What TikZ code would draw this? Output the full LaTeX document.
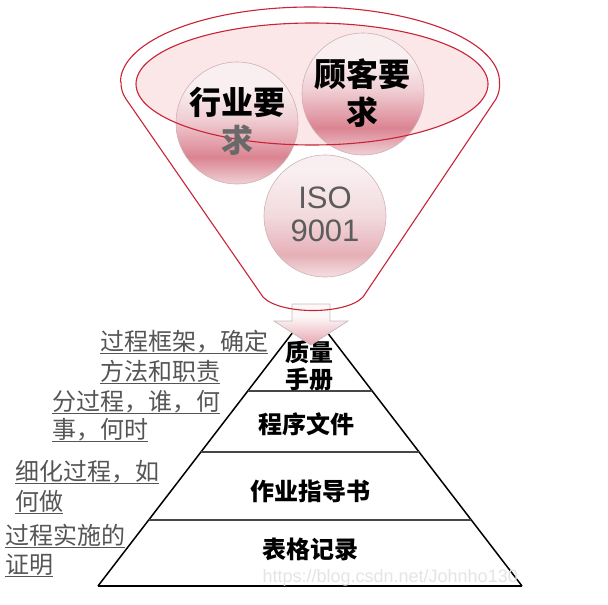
\documentclass[tikz,border=0pt]{standalone}
\usepackage{fontspec}
\newfontfamily\cjk{Noto Sans CJK SC}
\newfontfamily\lat{Liberation Sans}
\usetikzlibrary{calc,shapes.geometric}
\definecolor{funnelred}{RGB}{200,35,55}
\definecolor{ellfill}{RGB}{251,230,232}
\definecolor{notegray}{RGB}{85,85,85}
\definecolor{lowgray}{RGB}{105,105,105}
\definecolor{isogray}{RGB}{92,92,92}
\definecolor{wm}{RGB}{228,228,228}
\definecolor{ballTop}{RGB}{249,238,240}
\definecolor{ballLight}{RGB}{240,208,213}
\definecolor{ballMid}{RGB}{219,132,146}
\definecolor{ballBot}{RGB}{238,202,207}
\definecolor{softTop}{RGB}{249,238,240}
\definecolor{softLight}{RGB}{242,218,221}
\definecolor{softMid}{RGB}{230,175,183}
\definecolor{softBot}{RGB}{242,218,221}
\definecolor{ballEdge}{RGB}{205,178,182}
\definecolor{arrTop}{RGB}{252,248,248}
\definecolor{arrBot}{RGB}{232,165,176}
\definecolor{arrEdge}{RGB}{200,188,190}
\definecolor{layerline}{RGB}{70,70,70}
\pgfdeclareverticalshading{ballshade}{100bp}{color(0bp)=(ballBot); color(26bp)=(ballBot); color(36bp)=(ballMid); color(52bp)=(ballLight); color(64bp)=(ballTop); color(100bp)=(ballTop)}
\pgfdeclareverticalshading{softshade}{100bp}{color(0bp)=(softBot); color(26bp)=(softBot); color(34bp)=(softMid); color(50bp)=(softLight); color(68bp)=(softTop); color(100bp)=(softTop)}
\pgfdeclareverticalshading{arrshade}{100bp}{color(0bp)=(arrBot); color(25bp)=(arrBot); color(60bp)=(arrTop); color(100bp)=(arrTop)}
\tikzset{
  funnel/.style={draw=funnelred, line width=1.1pt, line join=round},
  ball/.style={circle, minimum size=122pt, inner sep=0pt, draw=ballEdge, line width=0.6pt, shading=ballshade},
  bigtxt/.style={align=center, inner sep=0pt, font=\cjk\bfseries\fontsize{32}{38}\selectfont},
  isotxt/.style={align=center, inner sep=0pt, text=isogray, font=\lat\fontsize{31}{33}\selectfont},
  layertxt/.style={align=center, inner sep=0pt, font=\cjk\bfseries\fontsize{24}{27}\selectfont},
  note/.style={anchor=base west, inner sep=0pt, text=notegray, font=\cjk\fontsize{24}{24}\selectfont},
  uline/.style={draw=notegray, line width=0.9pt},
  side/.style={draw=black, line width=1.5pt},
  layer/.style={draw=layerline, line width=1.8pt},
}
\begin{document}
\begin{tikzpicture}[x=1pt,y=-1pt]
\useasboundingbox (0,0) rectangle (608,605);
% ---------- pyramid ----------
\coordinate (A) at (310,310);
\coordinate (BL) at (98,586);
\coordinate (BR) at (522,586);
\draw[side] (BL) -- (A) -- (BR);
\draw[side] (BL) -- (BR);
\draw[layer] ($(A)!0.2935!(BL)$) -- ($(A)!0.2935!(BR)$);
\draw[layer] ($(A)!0.5145!(BL)$) -- ($(A)!0.5145!(BR)$);
\draw[layer] ($(A)!0.7609!(BL)$) -- ($(A)!0.7609!(BR)$);
\node[layertxt] (p1) at (309,366) {质量\\手册};
\node[layertxt] (p2) at (306,424) {程序文件};
\node[layertxt] (p3) at (310,491) {作业指导书};
\node[layertxt] (p4) at (310,549) {表格记录};
% ---------- notes ----------
\node[note] (n1) at (100,350) {过程框架，确定};
\node[note] (n2) at (100,380) {方法和职责};
\node[note] (n3) at (52,410) {分过程，谁，何};
\node[note] (n4) at (52,438) {事，何时};
\node[note] (n5) at (15,480) {细化过程，如};
\node[note] (n6) at (15,510) {何做};
\node[note] (n7) at (5,544) {过程实施的};
\node[note] (n8) at (5,573) {证明};
\foreach \n in {n1,n2,n3,n4,n5,n6,n7,n8}
  \draw[uline] ([yshift=-3pt]\n.base west) -- ([yshift=-3pt]\n.base east);
% ---------- watermark ----------
\node[anchor=base east, inner sep=0pt, text=wm, font=\lat\fontsize{18}{18}\selectfont] (wmk) at (518,582) {https://blog.csdn.net/Johnho130};
% ---------- arrow ----------
\path[shading=arrshade, draw=arrEdge, line width=0.8pt, line join=miter]
  (292,304) -- (330,304) -- (330,321) -- (348,321) -- (311,345) -- (274,321) -- (292,321) -- cycle;
% ---------- funnel ----------
\node[ellipse, minimum width=352pt, minimum height=122pt, inner sep=0pt, fill=ellfill] (ell) at (312,84) {};
\node[ball, shading=softshade] (c3) at (325,216) {};
\node[ball] (c1) at (237,123) {};
\node[ball] (c2) at (363,94) {};
\node[ellipse, minimum width=352pt, minimum height=122pt, inner sep=0pt, draw=funnelred, line width=1.1pt] (ellb) at (312,84) {};
\node[bigtxt] (t1) at (237,121) {行业要\\{\color{lowgray}求}};
\node[bigtxt] (t2) at (362,93) {顾客要\\求};
\node[isotxt] (t3) at (325,214) {ISO\\9001};
\draw[funnel] plot[domain=180:360,samples=90] ({310+189.5*cos(\x)},{82+75*sin(\x)})
  .. controls (500,88) and (499,93) .. (496,99) -- (363,297)
  .. controls (346,315) and (280,315) .. (263,297)
  -- (126,99) .. controls (122,93) and (121,88) .. (121,82);
\end{tikzpicture}
\end{document}
